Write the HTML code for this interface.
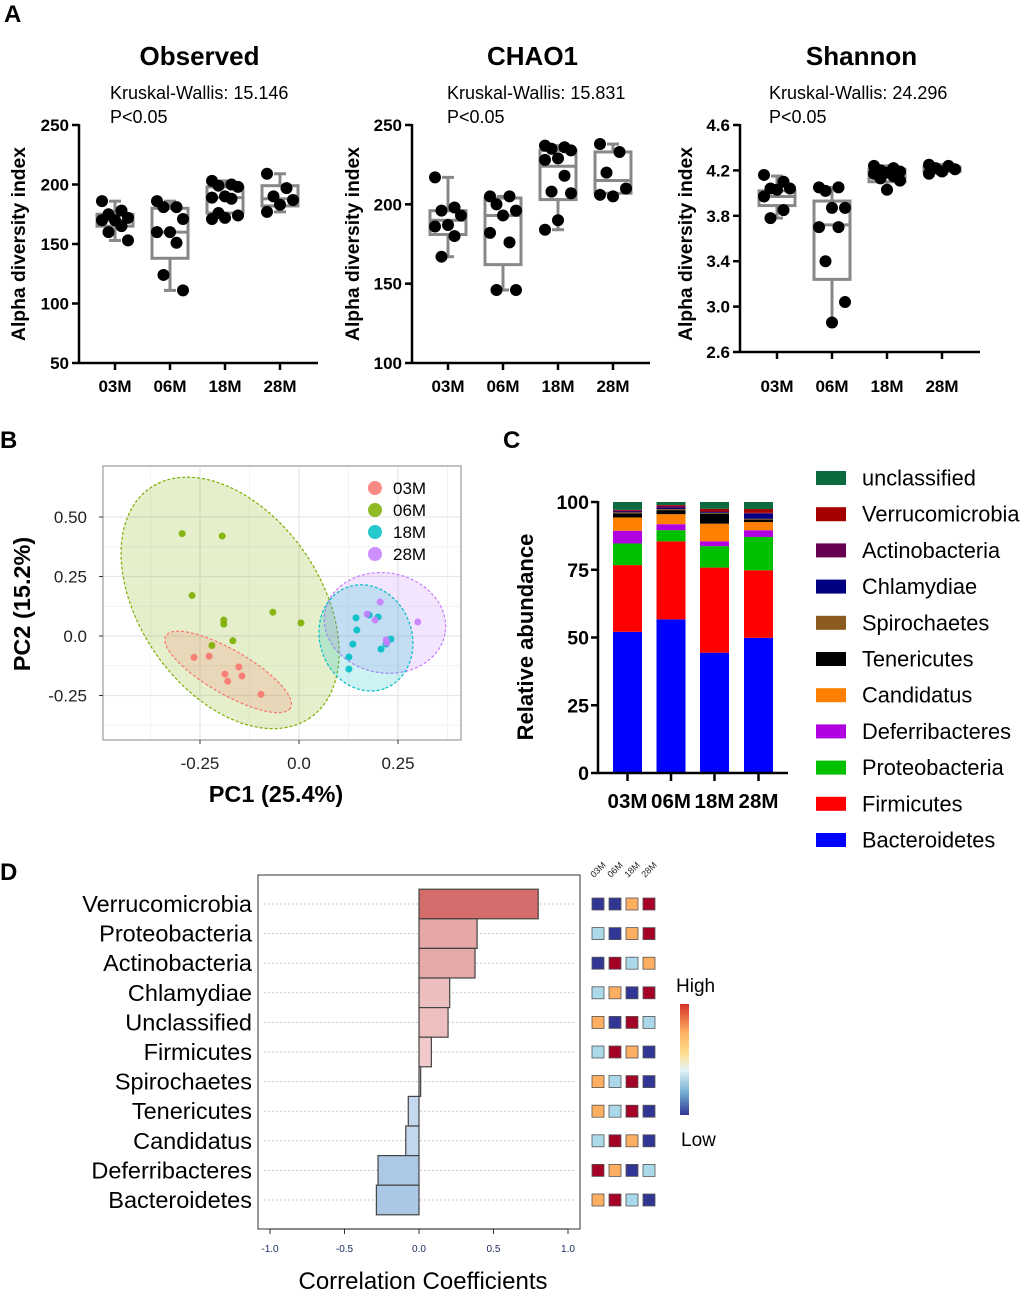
<!DOCTYPE html>
<html><head><meta charset="utf-8">
<style>
html,body{margin:0;padding:0;background:#fff;}
svg{display:block;font-family:"Liberation Sans",Arial,sans-serif;}
</style></head>
<body>
<svg id="fig" width="1020" height="1290" viewBox="0 0 1020 1290" xmlns="http://www.w3.org/2000/svg"></svg>
<script>
// ---------- Panel A data ----------
const groups = ["03M","06M","18M","28M"];
const obsPts = [[186,178,175,172,170,170,165,160,153],[186,181,181,171,160,160,151,124,111],[203,200,199,198,190,189,188,176,174,172,171],[209,197,190,187,183,177]];
const obsBox = [[153,165,170,175,186],[111,138,160,180,186],[171,176,189,198,203],[177,182,188,199,209]];
const chaoPts = [[217,198,196,193,187,186,180,167],[205,205,200,196,193,182,176,146,146],[237,236,235,234,229,228,218,208,207,190,184],[238,233,220,210,205,206]];
const chaoBox = [[167,181,190,196,217],[146,162,193,204,205],[184,203,224,234,237],[205,207,215,233,238]];
const shanPts = [[4.16,4.10,4.04,4.04,4.03,3.97,3.85,3.78],[4.05,4.05,4.02,3.87,3.87,3.70,3.70,3.40,3.04,2.86],[4.24,4.22,4.20,4.19,4.18,4.17,4.15,4.13,4.11,4.03],[4.25,4.24,4.22,4.21,4.19,4.17]];
const shanBox = [[3.78,3.89,3.97,4.02,4.15],[2.86,3.24,3.72,3.93,4.05],[4.03,4.10,4.17,4.21,4.24],[4.17,4.19,4.21,4.23,4.25]];
const obsTicks = [50,100,150,200,250];
const chaoTicks = [100,150,200,250];
const shanTicks = [2.6,3.0,3.4,3.8,4.2,4.6];
const kwStats = ["15.146","15.831","24.296"];
// ---------- Panel B data ----------
const pcaGroups = ["03M","06M","18M","28M"];
const pc03x = [-0.265,-0.227,-0.152,-0.187,-0.144,-0.18,-0.096];
const pc03y = [-0.09,-0.085,-0.13,-0.16,-0.168,-0.19,-0.245];
const pc06x = [-0.295,-0.194,-0.27,-0.066,-0.19,-0.19,0.005,-0.167,-0.22];
const pc06y = [0.43,0.42,0.17,0.10,0.067,0.05,0.055,-0.02,-0.04];
const pc18x = [0.144,0.177,0.2,0.146,0.136,0.207,0.22,0.232,0.126,0.126];
const pc18y = [0.076,0.088,0.08,0.025,-0.034,-0.055,-0.034,-0.013,-0.088,-0.139];
const pc28x = [0.205,0.172,0.192,0.22,0.222,0.3];
const pc28y = [0.143,0.092,0.067,-0.017,-0.029,0.059];
const ellCx = [-0.179,-0.174,0.169,0.217];
const ellCy = [-0.151,0.139,-0.008,0.055];
const pcaXTicks = [-0.25,0,0.25];
const pcaXLabels = ["-0.25","0.0","0.25"];
const pcaYTicks = [0.5,0.25,0,-0.25];
const pcaYLabels = ["0.50","0.25","0.0","-0.25"];
// ---------- Panel C data ----------
const phyla = ["Bacteroidetes","Firmicutes","Proteobacteria","Deferribacteres","Candidatus","Tenericutes","Spirochaetes","Chlamydiae","Actinobacteria","Verrucomicrobia","unclassified"];
const ab03 = [52.1,24.6,8.0,4.7,4.9,1.5,0.4,0.3,0.3,0.3,2.9];
const ab06 = [56.7,28.8,4.1,2.2,3.7,1.5,0.4,0.4,0.8,0.3,1.1];
const ab18 = [44.4,31.4,7.9,1.8,6.5,3.7,0.3,0.3,0.2,1.0,2.5];
const ab28 = [49.9,24.9,12.3,2.5,3.0,0.9,0.3,1.9,0.3,1.4,2.6];
const abTicks = [0,25,50,75,100];
// ---------- Panel D data ----------
const corrNames = ["Verrucomicrobia","Proteobacteria","Actinobacteria","Chlamydiae","Unclassified","Firmicutes","Spirochaetes","Tenericutes","Candidatus","Deferribacteres","Bacteroidetes"];
const corrVals = [0.80,0.39,0.376,0.206,0.195,0.083,0.011,-0.072,-0.089,-0.275,-0.286];
const corrTicks = [-1,-0.5,0,0.5,1];
const corrTickLabels = ["-1.0","-0.5","0.0","0.5","1.0"];
const heatLevels = [[0,0,2,3],[1,0,2,3],[0,3,1,2],[1,2,0,3],[2,0,3,1],[1,3,2,0],[2,1,3,0],[2,1,3,0],[1,3,2,0],[3,2,0,1],[2,3,1,0]];

const NS = "http://www.w3.org/2000/svg";
const svg = document.getElementById("fig");
function mk(tag, attrs, parent){
  const e = document.createElementNS(NS, tag);
  for (const k in attrs) e.setAttribute(k, attrs[k]);
  (parent||svg).appendChild(e);
  return e;
}
function txt(s, attrs, parent){ const e = mk("text", attrs, parent); e.textContent = s; return e; }

[["A",4,22],["B",0,448],["C",503,448],["D",0,880]].forEach(p=>{
  const t = txt(p[0],{x:p[1],y:p[2],"font-size":24,"font-weight":"bold"});
  
  
});

// ---------- Panel A ----------
const alphaPanels = [
  {title:"Observed", pts:obsPts, box:obsBox, ticks:obsTicks, dec:0, ax:79, y0:363, y1:125, xs:[115,170,225,280], xend:318, ylab:18, kx:110},
  {title:"CHAO1", pts:chaoPts, box:chaoBox, ticks:chaoTicks, dec:0, ax:412, y0:363, y1:125, xs:[448,503,558,613], xend:650, ylab:352, kx:447},
  {title:"Shannon", pts:shanPts, box:shanBox, ticks:shanTicks, dec:1, ax:740, y0:352, y1:125, xs:[777,832,887,942], xend:980, ylab:685, kx:769}
];
alphaPanels.forEach((P,pi)=>{
  const g = mk("g",{});
  
  
  const vmin = P.ticks[0], vmax = P.ticks[P.ticks.length-1];
  const Y = v => P.y0 - (v - vmin)/(vmax - vmin)*(P.y0 - P.y1);
  const cx = (P.xs[0]+P.xs[3])/2;
  const t = txt(P.title,{x:cx+2,y:65,"font-size":26,"font-weight":"bold","text-anchor":"middle"},g);
  
  
  const k = txt("Kruskal-Wallis: "+kwStats[pi],{x:P.kx,y:99,"font-size":18},g);
  
  
  const pv = txt("P<0.05",{x:P.kx,y:123,"font-size":18},g);
  
  
  const yl = txt("Alpha diversity index",{x:0,y:0,"font-size":19.3,"font-weight":"bold","text-anchor":"middle",transform:`translate(${P.ylab+7},244) rotate(-90)`},g);
  
  
  const ya = mk("line",{x1:P.ax,y1:P.y1-1,x2:P.ax,y2:P.y0+1,stroke:"#000","stroke-width":2.5},g);
  
  
  const xa = mk("line",{x1:P.ax,y1:P.y0,x2:P.xend,y2:P.y0,stroke:"#000","stroke-width":2.5},g);
  
  
  P.ticks.forEach(v=>{
    mk("line",{x1:P.ax-7,y1:Y(v),x2:P.ax,y2:Y(v),stroke:"#000","stroke-width":2.5},g);
    const tl = txt(v.toFixed(P.dec),{x:P.ax-10,y:Y(v)+6,"font-size":17,"font-weight":"bold","text-anchor":"end"},g);
    
    
  });
  groups.forEach((gname,gi)=>{
    const x = P.xs[gi];
    mk("line",{x1:x,y1:P.y0,x2:x,y2:P.y0+7,stroke:"#000","stroke-width":2.5},g);
    const xl = txt(gname,{x:x,y:392,"font-size":17,"font-weight":"bold","text-anchor":"middle"},g);
    
    
    const b = P.box[gi];
    const bg = mk("g",{stroke:"#888","stroke-width":3,fill:"none"},g);
    
    
    mk("line",{x1:x,y1:Y(b[0]),x2:x,y2:Y(b[1])},bg);
    mk("line",{x1:x,y1:Y(b[3]),x2:x,y2:Y(b[4])},bg);
    mk("line",{x1:x-6,y1:Y(b[0]),x2:x+6,y2:Y(b[0])},bg);
    mk("line",{x1:x-6,y1:Y(b[4]),x2:x+6,y2:Y(b[4])},bg);
    mk("rect",{x:x-18,y:Y(b[3]),width:36,height:Math.max(1,Y(b[1])-Y(b[3]))},bg);
    mk("line",{x1:x-18,y1:Y(b[2]),x2:x+18,y2:Y(b[2])},bg);
    P.pts[gi].forEach((v,i)=>{
      const off = (((i*3)%5)-2)*6.5;
      const c = mk("circle",{cx:x+off,cy:Y(v),r:6,fill:"#000"},g);
      
      
    });
  });
});

// ---------- Panel B ----------
(function(){
  const L=103,R=461,T=466,B=740;
  const X = v => 299 + v*396;
  const Y = v => 636 - v*238;
  const g = mk("g",{});
  
  
  mk("rect",{x:L,y:T,width:R-L,height:B-T,fill:"#fff"},g);
  [-0.375,-0.125,0.125,0.375].forEach(v=>mk("line",{x1:X(v),y1:T,x2:X(v),y2:B,stroke:"#f2f2f2","stroke-width":1},g));
  [0.375,0.125,-0.125,-0.375].forEach(v=>mk("line",{x1:L,y1:Y(v),x2:R,y2:Y(v),stroke:"#f2f2f2","stroke-width":1},g));
  pcaXTicks.forEach(v=>mk("line",{x1:X(v),y1:T,x2:X(v),y2:B,stroke:"#e6e6e6","stroke-width":1.3},g));
  pcaYTicks.forEach(v=>mk("line",{x1:L,y1:Y(v),x2:R,y2:Y(v),stroke:"#e6e6e6","stroke-width":1.3},g));
  const cols = ["#F8766D","#7CAE00","#00BFC4","#C77CFF"];
  const ellR = [[72,22,30],[140,90,55],[54,46,70],[61,50,10]];
  [1,0,3,2].forEach(i=>{
    const e = mk("ellipse",{cx:X(ellCx[i]),cy:Y(ellCy[i]),rx:ellR[i][0],ry:ellR[i][1],transform:`rotate(${ellR[i][2]} ${X(ellCx[i])} ${Y(ellCy[i])})`,fill:cols[i],"fill-opacity":0.2,stroke:cols[i],"stroke-width":1.2,"stroke-dasharray":"3,2"},g);
    
    
  });
  const xsArr=[pc03x,pc06x,pc18x,pc28x], ysArr=[pc03y,pc06y,pc18y,pc28y];
  [1,0,2,3].forEach(gi=>{
    xsArr[gi].forEach((v,i)=>{
      const c = mk("circle",{cx:X(v),cy:Y(ysArr[gi][i]),r:3.5,fill:cols[gi],"fill-opacity":0.9},g);
      
      
    });
  });
  mk("rect",{x:L,y:T,width:R-L,height:B-T,fill:"none",stroke:"#999","stroke-width":1.2},g);
  pcaXTicks.forEach((v,i)=>{
    mk("line",{x1:X(v),y1:B,x2:X(v),y2:B+4,stroke:"#333"},g);
    const t = txt(pcaXLabels[i],{x:X(v),y:769,"font-size":17,"text-anchor":"middle",fill:"#222"},g);
    
    
  });
  pcaYTicks.forEach((v,i)=>{
    mk("line",{x1:L-4,y1:Y(v),x2:L,y2:Y(v),stroke:"#333"},g);
    const t = txt(pcaYLabels[i],{x:87,y:Y(v)+6,"font-size":17,"text-anchor":"end",fill:"#222"},g);
    
    
  });
  const xt = txt("PC1 (25.4%)",{x:276,y:802,"font-size":23.5,"font-weight":"bold","text-anchor":"middle"},g);
  
  
  const yt = txt("PC2 (15.2%)",{x:0,y:0,"font-size":23.5,"font-weight":"bold","text-anchor":"middle",transform:"translate(30,604) rotate(-90)"},g);
  
  
  pcaGroups.forEach((n,i)=>{
    const lg = mk("g",{},g);
    
    
    mk("circle",{cx:375,cy:488+i*22,r:7,fill:cols[i],"fill-opacity":0.85},lg);
    txt(n,{x:393,y:494+i*22,"font-size":17},lg);
  });
})();

// ---------- Panel C ----------
(function(){
  const ax=598, y0=773, y1=502;
  const Y = v => y0 - v/100*(y0-y1);
  const xs=[627.5,671,714.5,758.5];
  const colors=["#0000ff","#ff0000","#00c000","#b000e0","#ff8000","#000000","#8b5a1e","#000080","#660050","#a50000","#0b6a3e"];
  const g = mk("g",{});
  
  
  [ab03,ab06,ab18,ab28].forEach((arr,bi)=>{
    let cum=0;
    arr.forEach((v,si)=>{
      const yTop = Y(Math.min(100,cum+v)), yBot = Y(cum);
      const r = mk("rect",{x:xs[bi]-14.5,y:yTop,width:29,height:Math.max(0.5,yBot-yTop),fill:colors[si]},g);
      
      
      cum+=v;
    });
  });
  mk("line",{x1:ax,y1:y1-1,x2:ax,y2:y0+1,stroke:"#000","stroke-width":2.5},g);
  mk("line",{x1:ax,y1:y0,x2:788,y2:y0,stroke:"#000","stroke-width":2.5},g);
  abTicks.forEach(v=>{
    mk("line",{x1:ax-7,y1:Y(v),x2:ax,y2:Y(v),stroke:"#000","stroke-width":2.5},g);
    const t = txt(String(v),{x:ax-9,y:Y(v)+7,"font-size":19.5,"font-weight":"bold","text-anchor":"end"},g);
    
    
  });
  groups.forEach((n,i)=>{
    mk("line",{x1:xs[i],y1:y0,x2:xs[i],y2:y0+8,stroke:"#000","stroke-width":2.5},g);
    const t = txt(n,{x:xs[i],y:808,"font-size":20.5,"font-weight":"bold","text-anchor":"middle"},g);
    
    
  });
  const yt = txt("Relative abundance",{x:0,y:0,"font-size":22,"font-weight":"bold","text-anchor":"middle",transform:"translate(533,637) rotate(-90)"},g);
  
  
  for(let j=0;j<phyla.length;j++){
    const si = phyla.length-1-j;
    const lg = mk("g",{},g);
    
    
    const yy = 478 + j*36.2;
    mk("rect",{x:816,y:yy-7,width:30,height:14,fill:colors[si]},lg);
    txt(phyla[si],{x:862,y:yy+7.5,"font-size":21.8},lg);
  }
})();

// ---------- Panel D ----------
(function(){
  const L=258,R=580,T=875,B=1229;
  const X = v => 419 + v*149;
  const rowY = i => 904 + i*29.6;
  const g = mk("g",{});
  
  
  mk("rect",{x:L,y:T,width:R-L,height:B-T,fill:"#fff",stroke:"#555","stroke-width":1.2},g);
  function barCol(v){
    const a=Math.min(1,Math.abs(v)/0.8);
    if(v>=0){ const s=[243,210,210], e=[212,108,108]; return `rgb(${s.map((c,k)=>Math.round(c+(e[k]-c)*Math.pow(a,1.2))).join(",")})`; }
    const s=[205,222,242], e=[170,200,230]; const b=Math.min(1,Math.abs(v)/0.28); return `rgb(${s.map((c,k)=>Math.round(c+(e[k]-c)*b)).join(",")})`;
  }
  corrNames.forEach((n,i)=>{
    const y=rowY(i);
    mk("line",{x1:L+6,y1:y,x2:R-6,y2:y,stroke:"#c8c8c8","stroke-width":1,"stroke-dasharray":"2,2"},g);
  });
  corrNames.forEach((n,i)=>{
    const y=rowY(i), v=corrVals[i];
    const x0=Math.min(X(0),X(v)), w=Math.abs(X(v)-X(0));
    const r = mk("rect",{x:x0,y:y-14.8,width:Math.max(1.5,w),height:29.6,fill:barCol(v),stroke:"#444","stroke-width":1.2},g);
    
    
    const t = txt(n,{x:252,y:y+8,"font-size":23.5,"text-anchor":"end"},g);
    
    
  });
  mk("line",{x1:X(-1),y1:B,x2:X(1),y2:B,stroke:"#333"},g);
  corrTicks.forEach((v,i)=>{
    mk("line",{x1:X(v),y1:B,x2:X(v),y2:B+5,stroke:"#333"},g);
    const t = txt(corrTickLabels[i],{x:X(v),y:1252,"font-size":10,"text-anchor":"middle",fill:"#1a2a5e"},g);
    
    
  });
  const xt = txt("Correlation Coefficients",{x:423,y:1289,"font-size":24,"text-anchor":"middle"},g);
  
  
  const hcols=["#313695","#abd9e9","#fdae61","#a50026"];
  const colX=[598,615,632,649];
  groups.forEach((n,j)=>{
    const t = txt(n,{x:0,y:0,"font-size":9,fill:"#222",transform:`translate(${colX[j]-4},${878}) rotate(-45)`},g);
    
    
  });
  heatLevels.forEach((row,i)=>{
    row.forEach((lv,j)=>{
      const c = mk("rect",{x:colX[j]-6,y:rowY(i)-6,width:12,height:12,fill:hcols[lv],stroke:"#555","stroke-width":0.8},g);
      
      
    });
  });
  const defs = mk("defs",{},g);
  const lgr = mk("linearGradient",{id:"cb",x1:0,y1:0,x2:0,y2:1},defs);
  [["0","#d73027"],["0.25","#fdae61"],["0.45","#fee090"],["0.6","#e0f3f8"],["0.8","#74add1"],["1","#313695"]].forEach(s=>mk("stop",{offset:s[0],"stop-color":s[1]},lgr));
  const cb = mk("rect",{x:680,y:1004,width:9,height:111,fill:"url(#cb)"},g);
  
  
  const hi = txt("High",{x:676,y:992,"font-size":19},g);
  
  
  const lo = txt("Low",{x:681,y:1146,"font-size":19},g);
  
  
})();
</script>
</body></html>
